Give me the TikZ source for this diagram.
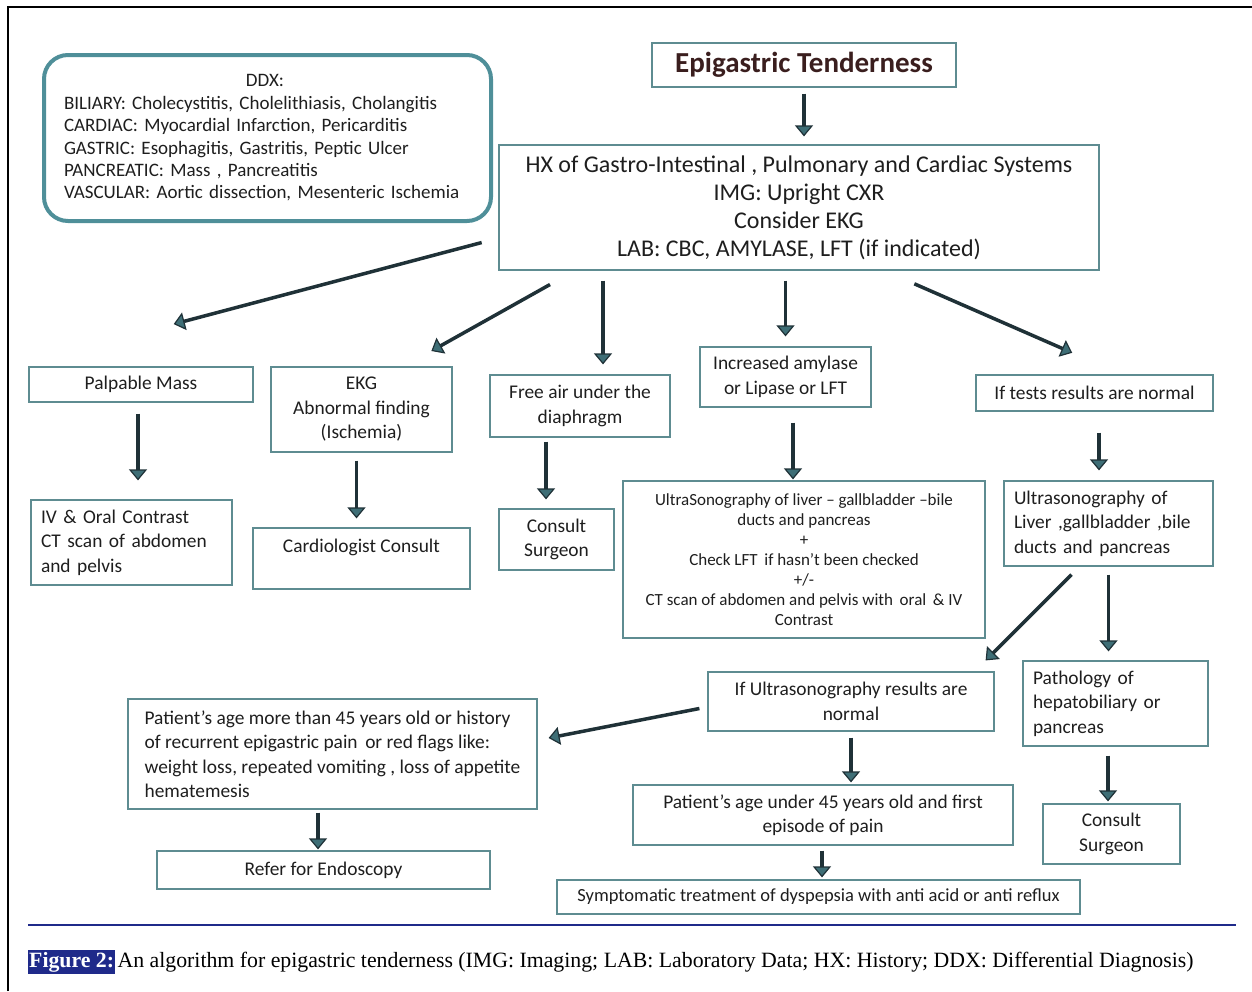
\documentclass[tikz,border=0pt]{standalone}
\usepackage{fontspec}
\setmainfont{Carlito}
\newfontfamily\capfont{Liberation Serif}
\usetikzlibrary{arrows.meta,positioning}
\definecolor{boxline}{HTML}{5E8C91}
\definecolor{ddxteal}{HTML}{4F8F99}
\definecolor{arrowdark}{HTML}{1F3137}
\definecolor{arrowteal}{HTML}{3E6E76}
\definecolor{textcol}{HTML}{1E1E1E}
\definecolor{titlecol}{HTML}{3A1E1E}
\definecolor{capnavy}{HTML}{1F2A8A}
\tikzset{
  box/.style={draw=boxline, line width=1.2pt, inner sep=0pt, align=center,
    text=textcol, font=\fontsize{19.4}{24.5}\selectfont},
  lbox/.style={box, align=left, inner xsep=10pt},
  arr/.style={draw=arrowdark, line width=3.5pt, shorten <=8pt, shorten >=9pt,
    -{Triangle[length=11pt, width=18pt, fill=arrowteal, line width=1.2pt]}}
}
\begin{document}
\begin{tikzpicture}[x=1pt, y=-1pt]
\useasboundingbox (0,0) rectangle (1252,991);
% Frame and rule
\draw[line width=2.5pt] (8,991) -- (8,7) -- (1252,7);
\draw[capnavy, line width=1.5pt] (28,925) -- (1236,925);
% Top
\node[box, minimum width=304pt, minimum height=44pt, text=titlecol,
  font=\fontsize{29}{32}\selectfont\bfseries] (title) at (804,65) {Epigastric Tenderness};
\node[box, minimum width=600pt, minimum height=125pt,
  font=\fontsize{24}{28}\selectfont] (hx) at (799,207.5)
  {HX of Gastro-Intestinal , Pulmonary and Cardiac Systems\\IMG: Upright CXR\\
   Consider EKG\\LAB: CBC, AMYLASE, LFT (if indicated)};
\node[draw=ddxteal, line width=4pt, rounded corners=24pt, align=left, text=textcol,
  text width=407pt, inner xsep=20pt, minimum height=166pt,
  font=\fontsize{19}{22.4}\selectfont] (ddx) at (267.5,138)
  {\makebox[402pt]{DDX:}\\
   BILIARY: Cholecystitis, Cholelithiasis, Cholangitis\\
   CARDIAC: Myocardial Infarction, Pericarditis\\
   GASTRIC: Esophagitis, Gastritis, Peptic Ulcer\\
   PANCREATIC: Mass , Pancreatitis\\
   VASCULAR: Aortic dissection, Mesenteric Ischemia};
% Second row
\node[box, minimum width=224pt, minimum height=35pt] (palp) at (141,384.5) {Palpable Mass};
\node[box, minimum width=181pt, minimum height=85pt] (ekg) at (361.5,409.5)
  {EKG\\Abnormal finding\\(Ischemia)};
\node[box, minimum width=180pt, minimum height=62pt] (free) at (580,406)
  {Free air under the\\diaphragm};
\node[box, minimum width=171pt, minimum height=60pt] (amyl) at (785.5,377)
  {Increased amylase\\or Lipase or LFT};
\node[box, minimum width=237pt, minimum height=36pt] (normal) at (1094.5,393)
  {If tests results are normal};
% Third row
\node[lbox, text width=181pt, minimum height=85pt] (ivct) at (131.5,542.5)
  {IV \& Oral Contrast\\CT scan of abdomen\\and pelvis};
\node[box, minimum width=217pt, minimum height=61pt] (cardio) at (361.5,558.5)
  {Cardiologist Consult\\\mbox{}};
\node[box, minimum width=115pt, minimum height=61pt] (surga) at (556.5,539.5)
  {Consult\\Surgeon};
\node[box, minimum width=362pt, minimum height=157pt,
  font=\fontsize{17}{20}\selectfont] (usct) at (804,559.5)
  {UltraSonography of liver -- gallbladder --bile\\ducts and pancreas\\+\\
   Check LFT\, if hasn't been checked\\+/-\\
   CT scan of abdomen and pelvis with\, oral\, \& IV\\Contrast};
\node[lbox, text width=189pt, minimum height=85pt] (usliv) at (1108.5,523.5)
  {Ultrasonography of\\Liver ,gallbladder ,bile\\ducts and pancreas};
% Lower part
\node[box, minimum width=286pt, minimum height=59pt] (usnorm) at (851,701.5)
  {If Ultrasonography results are\\normal};
\node[lbox, text width=165pt, minimum height=85pt] (path) at (1115.5,703.5)
  {Pathology of\\hepatobiliary or\\pancreas};
\node[box, align=left, minimum width=409pt, minimum height=110pt] (older) at (332.5,754)
  {Patient’s age more than 45 years old or history\\
   of recurrent epigastric pain\, or red flags like:\\
   weight loss, repeated vomiting , loss of appetite\\hematemesis};
\node[box, minimum width=333pt, minimum height=38pt] (endo) at (323.5,870)
  {Refer for Endoscopy};
\node[box, minimum width=380pt, minimum height=60pt] (young) at (823,815)
  {Patient’s age under 45 years old and first\\episode of pain};
\node[box, minimum width=137pt, minimum height=60pt] (surgb) at (1111.5,834)
  {Consult\\Surgeon};
\node[box, minimum width=523pt, minimum height=34pt,
  font=\fontsize{18.5}{20}\selectfont] (sympt) at (818.5,897)
  {Symptomatic treatment of dyspepsia with anti acid or anti reflux};
% Arrows
\draw[arr, shorten <=6pt, shorten >=8pt] (title.south) -- (title.south |- hx.north);
\draw[arr] ([shift={(-9,33)}]hx.west) -- ([shift={(24,-40)}]palp.north);
\draw[arr] ([shift={(-242,10)}]hx.south) -- ([shift={(62,-11)}]ekg.north);
\draw[arr, shorten <=10pt, shorten >=10pt] ([xshift=23pt]free.north |- hx.south) -- ([xshift=23pt]free.north);
\draw[arr, shorten <=10pt, shorten >=10pt] (amyl.north |- hx.south) -- (amyl.north);
\draw[arr] ([shift={(108,10)}]hx.south) -- ([shift={(-14,-18)}]normal.north);
\draw[arr, shorten <=11pt, shorten >=19pt] ([xshift=-3pt]palp.south) -- ([xshift=-3pt]palp.south |- ivct.north);
\draw[arr] ([xshift=-5pt]ekg.south) -- ([xshift=-5pt]ekg.south |- cardio.north);
\draw[arr, shorten <=4pt] ([xshift=-34pt]free.south) -- ([xshift=-34pt]free.south |- surga.north);
\draw[arr, shorten <=15pt, shorten >=1pt] ([xshift=7.5pt]amyl.south) -- ([xshift=7.5pt]amyl.south |- usct.north);
\draw[arr, shorten <=21pt, shorten >=10pt] ([xshift=4.5pt]normal.south) -- ([xshift=4.5pt]normal.south |- usliv.north);
\draw[arr, shorten <=0pt, shorten >=0pt] ([shift={(-37,8)}]usliv.south) -- ([shift={(-9,-11)}]usnorm.north east);
\draw[arr] (usliv.south) -- (usliv.south |- path.north);
\draw[arr, shorten <=0pt, shorten >=0pt] ([shift={(-8,7)}]usnorm.west) -- ([shift={(11,-16)}]older.east);
\draw[arr, shorten <=6pt, shorten >=2pt] (usnorm.south) -- (usnorm.south |- young.north);
\draw[arr, shorten <=3pt, shorten >=1pt] ([xshift=-14.5pt]older.south) -- ([xshift=-14.5pt]older.south |- endo.north);
\draw[arr, shorten <=5pt, shorten >=2pt] ([xshift=-1pt]young.south) -- ([xshift=-1pt]young.south |- sympt.north);
\draw[arr, shorten <=9pt, shorten >=2pt] ([xshift=-7.5pt]path.south) -- ([xshift=-7.5pt]path.south |- surgb.north);
% Caption
\node[fill=capnavy, text=white, inner xsep=1pt, inner ysep=0pt, minimum height=24pt,
  anchor=west, font=\capfont\fontsize{21.8}{24}\selectfont\bfseries] (figlab) at (28,962) {Figure 2:};
\node[right=2pt of figlab, inner sep=0pt, font=\capfont\fontsize{21.8}{24}\selectfont] (captext)
  {An algorithm for epigastric tenderness (IMG: Imaging; LAB: Laboratory Data; HX: History; DDX: Differential Diagnosis)};
\end{tikzpicture}
\end{document}
